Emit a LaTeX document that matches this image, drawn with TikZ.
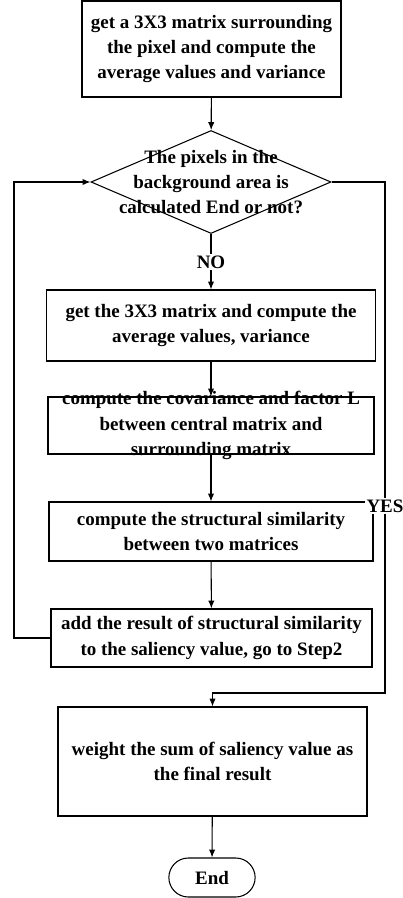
\documentclass[tikz,border=0pt]{standalone}
\usepackage{fontspec}
\setmainfont{Liberation Serif}
\usetikzlibrary{arrows.meta,shapes.geometric,shapes.misc}

\begin{document}
\begin{tikzpicture}[
    box/.style={draw, align=center, inner sep=2pt},
    dec/.style={draw, diamond, inner sep=0pt, minimum width=4.8cm, minimum height=2.06cm},
    term/.style={draw, rounded rectangle, minimum width=1.96cm, minimum height=0.78cm},
    lbl/.style={align=center, fill=white, inner sep=1pt},
    line width=0.6pt,
    >={Latex[length=4.5pt,width=3.6pt]},
    font=\fontsize{10.8}{14.4}\selectfont\bfseries
]
\useasboundingbox (-4.22,0) rectangle (3.84,-17.96);

\node[box, minimum width=5.18cm, minimum height=1.92cm] (s1) at (0.01,-0.98) {get a 3X3 matrix surrounding\\the pixel and compute the\\average values and variance};

\node[dec] (d2) at (0,-3.64) {};
\node[align=center] (d2t) at (d2.center) {The pixels in the\\background area is\\calculated End or not?};

\node[box, minimum width=6.59cm, minimum height=1.42cm] (s3) at (0,-6.51) {get the 3X3 matrix and compute the\\average values, variance};
\node[box, inner ysep=-6pt, minimum width=6.52cm, minimum height=1.14cm] (s4) at (0,-8.51) {compute the covariance and factor L\\between central matrix and\\surrounding matrix};
\node[box, minimum width=6.48cm, minimum height=1.18cm] (s5) at (0,-10.63) {compute the structural similarity\\between two matrices};
\node[box, minimum width=6.42cm, minimum height=1.16cm] (s6) at (0.01,-12.76) {add the result of structural similarity\\to the saliency value, go to Step2};
\node[box, minimum width=6.18cm, minimum height=2.18cm] (s7) at (0.03,-15.23) {weight the sum of saliency value as\\the final result};
\node[term] (e) at (0.02,-17.55) {End};

\coordinate (lc) at (-3.94,0);
\coordinate (rc) at (3.48,-13.86);

\draw[->] (s1) -- (d2);
\draw[->] (d2) -- (s3);
\draw[->] (s3) -- (s4);
\draw[->] (s4) -- (s5);
\draw[->] (s5) -- (s6);
\draw[->] (s7) -- (e);

\draw[->] (s6.west) -| (lc |- d2.west) -- (d2.west);
\draw[->] (d2.east) -| (rc) -| (s7.north);

\node[lbl] (no) at (0,-5.24) {NO};
\node[lbl] (yes) at (3.48,-10.12) {YES};

\end{tikzpicture}
\end{document}
